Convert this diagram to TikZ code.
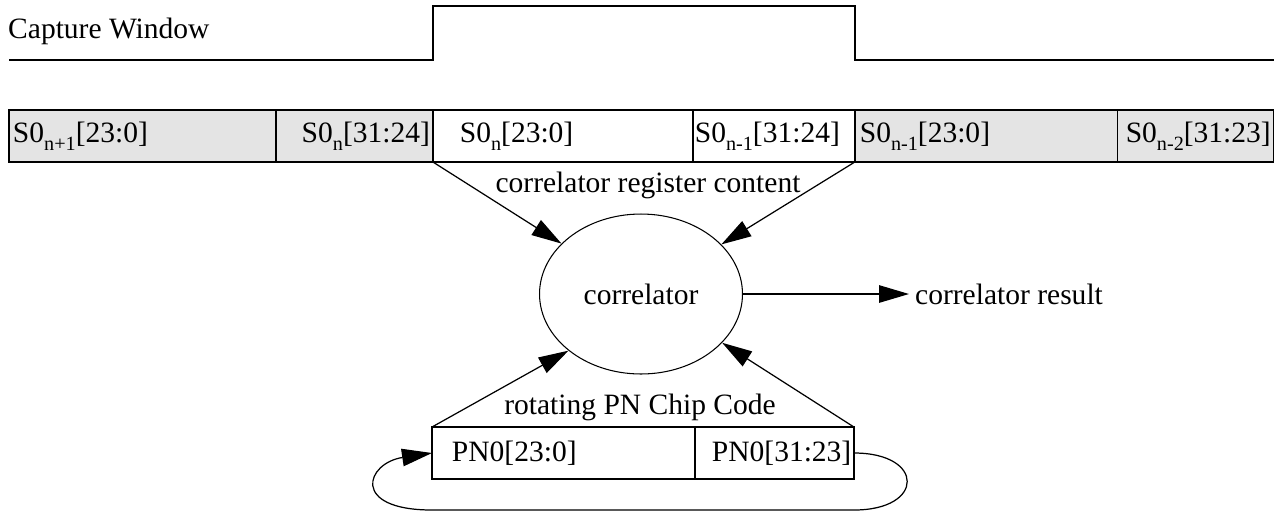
\documentclass[tikz,border=0pt]{standalone}
\usepackage{fontspec}
\setmainfont{Liberation Serif}
\usepackage{xcolor}
\usepackage{tikz}
\usetikzlibrary{
  positioning,
  arrows.meta,
  shapes.geometric
}
\definecolor{cellgray}{RGB}{228,228,228}
\newcommand{\sbs}[1]{\raisebox{-0.28em}{\fontsize{11.5}{12}\selectfont #1}}
\tikzset{
  >=Triangle,
  flowarrow/.style={-{Triangle[length=6mm,width=3.5mm]},line width=0.7pt},
  wave/.style={line width=0.9pt},
  cell/.style={rectangle,draw,line width=0.8pt,outer sep=0pt,inner xsep=0pt,minimum height=10.4mm,text width=#1,align=left},
  shaded/.style={fill=cellgray},
  correl/.style={ellipse,draw,line width=0.6pt,minimum width=40.6mm,minimum height=32mm,inner sep=0pt}
}

\begin{document}
\begin{tikzpicture}[x=0.02cm, y=-0.02cm, font=\fontsize{16.8}{20}\selectfont]
    \useasboundingbox (0,0) rectangle (1275,512);

    \node[anchor=west] (capture) at (2,31) {Capture Window};
    \draw[wave] (9,60) -- (433,60) -- (433,6) -- (855,6) -- (855,60) -- (1274,60);

    \node[cell=53.4mm, shaded, anchor=west] (s1) at (9,136) {\hspace*{0.08cm}S0\sbs{n+1}[23:0]};
    \node[cell=31.4mm, shaded, align=right, right=0pt of s1] (s2) {S0\sbs{n}[31:24]\kern0.06cm};
    \node[cell=52.0mm, right=0pt of s2] (s3) {\hspace*{0.54cm}S0\sbs{n}[23:0]};
    \node[cell=32.4mm, right=0pt of s3] (s4) {\hspace*{0.04cm}S0\sbs{n-1}[31:24]};
    \node[cell=52.6mm, shaded, right=0pt of s4] (s5) {\hspace*{0.1cm}S0\sbs{n-1}[23:0]};
    \node[cell=31.2mm, shaded, right=0pt of s5] (s6) {\hspace*{0.16cm}S0\sbs{n-2}[31:23]};

    \node (regtext) at (648,185) {correlator register content};
    \node[correl] (corr) at (641,294) {correlator};
    \node[anchor=west] (result) at (909,294) {correlator result};

    \node (pntext) at (640,407) {rotating PN Chip Code};
    \node[cell=52.6mm, anchor=west] (pnlo) at (432,453) {\hspace*{0.4cm}PN0[23:0]};
    \node[cell=31.8mm, right=0pt of pnlo] (pnhi) {\hspace*{0.34cm}PN0[31:23]};
    \coordinate (loopr) at (854,510);
    \coordinate (loopl) at (432,510);

    \draw[flowarrow] (s3.south west) -- (corr);
    \draw[flowarrow] (s4.south east) -- (corr);
    \draw[flowarrow] (corr.east) -- (result.west);
    \draw[flowarrow] (pnlo.north west) -- (corr.218);
    \draw[flowarrow] (pnhi.north east) -- (corr.-31);
    \draw[flowarrow] (pnhi.east) .. controls +(71,0) and +(71,0) .. (loopr) -- (loopl)
        .. controls +(-82,0) and +(-66,10) .. (pnlo.west);
\end{tikzpicture}
\end{document}
